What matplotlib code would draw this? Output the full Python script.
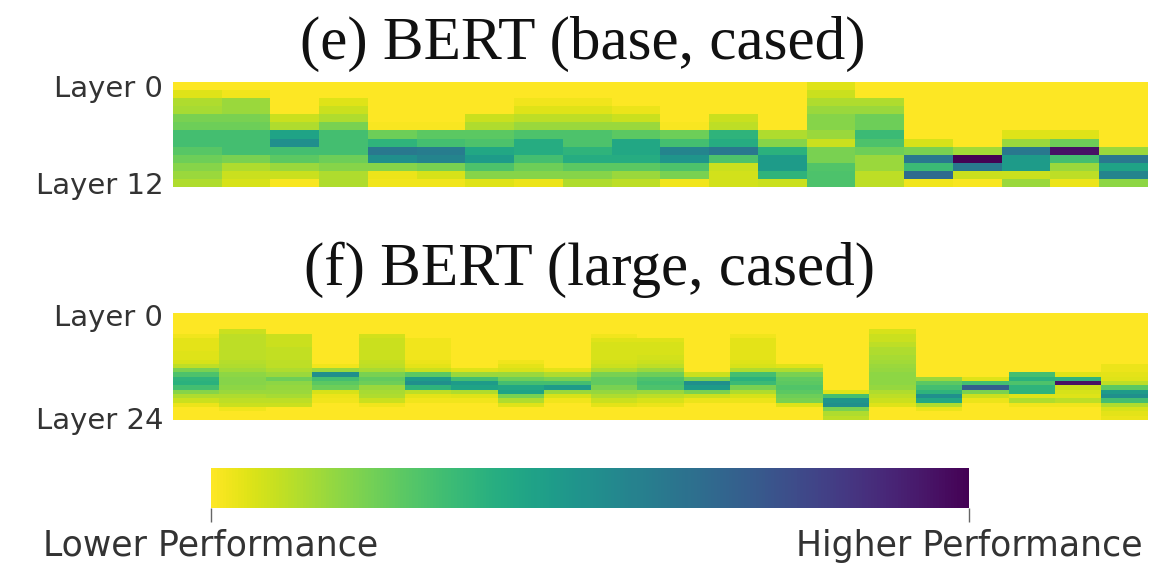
import matplotlib
matplotlib.use("Agg")
import matplotlib.pyplot as plt
import numpy as np
from matplotlib.cm import ScalarMappable
from matplotlib.colors import Normalize

# probing score per layer (0 = lower, 1 = higher), one list per column
BASE_COLS = [
    [0, 0.05, 0.12, 0.13, 0.2, 0.22, 0.3, 0.3, 0.26, 0.22, 0.18, 0.15, 0.12],
    [0, 0.02, 0.15, 0.15, 0.2, 0.22, 0.3, 0.3, 0.3, 0.2, 0.12, 0.08, 0.06],
    [0, 0, 0, 0, 0.08, 0.12, 0.42, 0.5, 0.3, 0.25, 0.15, 0.08, 0.01],
    [0, 0, 0.05, 0.08, 0.12, 0.2, 0.3, 0.3, 0.3, 0.22, 0.18, 0.12, 0.12],
    [0, 0, 0, 0, 0, 0.01, 0.22, 0.35, 0.6, 0.5, 0.18, 0.03, 0.02],
    [0, 0, 0, 0, 0, 0.01, 0.25, 0.3, 0.58, 0.55, 0.2, 0.06, 0.02],
    [0, 0, 0, 0, 0.08, 0.12, 0.25, 0.28, 0.4, 0.45, 0.28, 0.18, 0.05],
    [0, 0, 0.02, 0.05, 0.1, 0.15, 0.28, 0.38, 0.38, 0.3, 0.22, 0.18, 0.03],
    [0, 0, 0.02, 0.05, 0.1, 0.15, 0.28, 0.28, 0.35, 0.38, 0.25, 0.18, 0.12],
    [0, 0, 0, 0.03, 0.08, 0.15, 0.25, 0.4, 0.4, 0.38, 0.25, 0.15, 0.1],
    [0, 0, 0, 0, 0, 0.01, 0.22, 0.3, 0.55, 0.48, 0.28, 0.2, 0.02],
    [0, 0, 0, 0, 0.08, 0.1, 0.35, 0.38, 0.6, 0.28, 0.08, 0.07, 0.07],
    [0, 0, 0, 0, 0, 0, 0.12, 0.18, 0.36, 0.45, 0.45, 0.35, 0.08],
    [0.05, 0.08, 0.12, 0.15, 0.18, 0.18, 0.15, 0.08, 0.2, 0.2, 0.27, 0.28, 0.28],
    [0, 0, 0.12, 0.15, 0.22, 0.22, 0.32, 0.28, 0.22, 0.15, 0.15, 0.1, 0.1],
    [0, 0, 0, 0, 0, 0, 0, 0.06, 0.2, 0.6, 0.32, 0.65, 0.02],
    [0, 0, 0, 0, 0, 0, 0, 0, 0.14, 1.0, 0.6, 0.08, 0.01],
    [0, 0, 0, 0, 0, 0, 0.05, 0.15, 0.6, 0.45, 0.45, 0.08, 0.15],
    [0, 0, 0, 0, 0, 0, 0.05, 0.22, 0.95, 0.3, 0.15, 0.1, 0.03],
    [0, 0, 0, 0, 0, 0, 0, 0, 0.15, 0.6, 0.42, 0.55, 0.17],
]

LARGE_COLS = [
    [0, 0, 0, 0, 0, 0.02, 0.04, 0.04, 0.04, 0.05, 0.05, 0.06, 0.1, 0.2, 0.28, 0.35, 0.36, 0.3, 0.18, 0.12, 0.08, 0.03, 0, 0, 0],
    [0, 0, 0, 0, 0.08, 0.1, 0.1, 0.1, 0.1, 0.1, 0.1, 0.11, 0.12, 0.14, 0.17, 0.18, 0.18, 0.17, 0.15, 0.12, 0.1, 0.08, 0.02, 0, 0],
    [0, 0, 0, 0, 0, 0.08, 0.08, 0.08, 0.09, 0.09, 0.09, 0.1, 0.1, 0.12, 0.15, 0.22, 0.17, 0.16, 0.15, 0.13, 0.1, 0.08, 0, 0, 0],
    [0, 0, 0, 0, 0, 0, 0, 0, 0, 0, 0, 0, 0.02, 0.15, 0.5, 0.3, 0.25, 0.22, 0.06, 0.03, 0.02, 0, 0, 0, 0],
    [0, 0, 0, 0, 0, 0.07, 0.08, 0.08, 0.08, 0.08, 0.08, 0.09, 0.1, 0.13, 0.2, 0.24, 0.22, 0.15, 0.13, 0.12, 0.08, 0.02, 0, 0, 0],
    [0, 0, 0, 0, 0, 0, 0.02, 0.02, 0.02, 0.02, 0.02, 0.03, 0.04, 0.08, 0.25, 0.45, 0.5, 0.35, 0.1, 0.04, 0.02, 0, 0, 0, 0],
    [0, 0, 0, 0, 0, 0, 0, 0, 0, 0, 0, 0, 0, 0.05, 0.15, 0.3, 0.45, 0.42, 0.12, 0.05, 0.02, 0, 0, 0, 0],
    [0, 0, 0, 0, 0, 0, 0, 0, 0, 0, 0, 0.02, 0.04, 0.06, 0.15, 0.22, 0.3, 0.4, 0.42, 0.2, 0.12, 0.05, 0, 0, 0],
    [0, 0, 0, 0, 0, 0, 0, 0, 0, 0, 0, 0, 0, 0.04, 0.12, 0.2, 0.3, 0.45, 0.15, 0.06, 0.02, 0, 0, 0, 0],
    [0, 0, 0, 0, 0, 0.02, 0.05, 0.06, 0.06, 0.06, 0.06, 0.07, 0.08, 0.12, 0.2, 0.24, 0.24, 0.2, 0.16, 0.12, 0.08, 0.04, 0, 0, 0],
    [0, 0, 0, 0, 0, 0, 0.05, 0.06, 0.06, 0.06, 0.07, 0.08, 0.1, 0.15, 0.22, 0.28, 0.3, 0.28, 0.15, 0.1, 0.06, 0.03, 0, 0, 0],
    [0, 0, 0, 0, 0, 0, 0, 0, 0, 0, 0, 0, 0, 0, 0.08, 0.2, 0.5, 0.45, 0.2, 0.08, 0.03, 0, 0, 0, 0],
    [0, 0, 0, 0, 0, 0.02, 0.04, 0.04, 0.04, 0.04, 0.04, 0.05, 0.06, 0.12, 0.3, 0.36, 0.32, 0.2, 0.12, 0.06, 0.03, 0, 0, 0, 0],
    [0, 0, 0, 0, 0, 0, 0, 0, 0, 0, 0, 0, 0.05, 0.12, 0.2, 0.24, 0.25, 0.27, 0.25, 0.22, 0.2, 0.05, 0, 0, 0],
    [0, 0, 0, 0, 0, 0, 0, 0, 0, 0, 0, 0, 0, 0, 0, 0, 0, 0, 0.05, 0.3, 0.48, 0.5, 0.2, 0.12, 0.1],
    [0, 0, 0, 0, 0.06, 0.08, 0.08, 0.1, 0.12, 0.12, 0.13, 0.14, 0.15, 0.16, 0.17, 0.17, 0.17, 0.16, 0.12, 0.1, 0.08, 0.05, 0, 0, 0],
    [0, 0, 0, 0, 0, 0, 0, 0, 0, 0, 0, 0, 0, 0, 0, 0.15, 0.25, 0.3, 0.35, 0.5, 0.4, 0.12, 0.03, 0, 0],
    [0, 0, 0, 0, 0, 0, 0, 0, 0, 0, 0, 0, 0, 0, 0, 0.05, 0.3, 0.7, 0.2, 0.08, 0.03, 0, 0, 0, 0],
    [0, 0, 0, 0, 0, 0, 0, 0, 0, 0, 0, 0, 0, 0, 0.3, 0.36, 0.28, 0.35, 0.35, 0.05, 0.12, 0.02, 0, 0, 0],
    [0, 0, 0, 0, 0, 0, 0, 0, 0, 0, 0, 0, 0, 0, 0.05, 0.35, 0.95, 0.08, 0.06, 0.05, 0.1, 0.02, 0, 0, 0],
    [0, 0, 0, 0, 0, 0, 0, 0, 0, 0, 0, 0, 0.03, 0.03, 0.04, 0.05, 0.1, 0.25, 0.45, 0.5, 0.3, 0.12, 0.06, 0.04, 0.03],
]

TITLES = ["(e) BERT (base, cased)", "(f) BERT (large, cased)"]
LAYER_LABELS = [["Layer 0", "Layer 12"], ["Layer 0", "Layer 24"]]
BAR_LABELS = ["Lower Performance", "Higher Performance"]

TEXT = "#333333"
CMAP = "viridis_r"
SANS = ["DejaVu Sans"]
SERIF = ["Liberation Serif", "DejaVu Serif"]


def draw_heatmap(ax, cols, labels):
    data = np.array(cols, dtype=float).T
    ax.imshow(data, cmap=CMAP, vmin=0, vmax=1, aspect="auto", interpolation="nearest")
    n_rows = data.shape[0]
    ax.set_xticks([])
    ax.set_yticks([0, n_rows - 1])
    ax.set_yticklabels(labels, fontsize=21, color=TEXT, family=SANS)
    ax.tick_params(axis="y", length=0, pad=7)
    for s in ax.spines.values():
        s.set_visible(False)


fig = plt.figure(figsize=(11.75, 5.65), dpi=100)

ax_top = fig.add_axes([0.1472, 0.669, 0.829, 0.1858])
ax_bot = fig.add_axes([0.1472, 0.2566, 0.829, 0.1894])
draw_heatmap(ax_top, BASE_COLS, LAYER_LABELS[0])
draw_heatmap(ax_bot, LARGE_COLS, LAYER_LABELS[1])

fig.text(0.496, 0.922, TITLES[0], ha="center", va="center", fontsize=44, color="#111111", family=SERIF)
fig.text(0.502, 0.522, TITLES[1], ha="center", va="center", fontsize=44, color="#111111", family=SERIF)

cax = fig.add_axes([0.1796, 0.1009, 0.645, 0.0708])
sm = ScalarMappable(norm=Normalize(0, 1), cmap=CMAP)
cb = fig.colorbar(sm, cax=cax, orientation="horizontal", ticks=[0, 1])
cb.outline.set_visible(False)
cb.set_ticklabels(BAR_LABELS)
cax.tick_params(axis="x", length=10, width=1, color="#666666", pad=5,
                labelsize=25, labelcolor=TEXT)
for lab in cax.get_xticklabels():
    lab.set_family(SANS)

fig.savefig("out.png", dpi=100, facecolor="white")
